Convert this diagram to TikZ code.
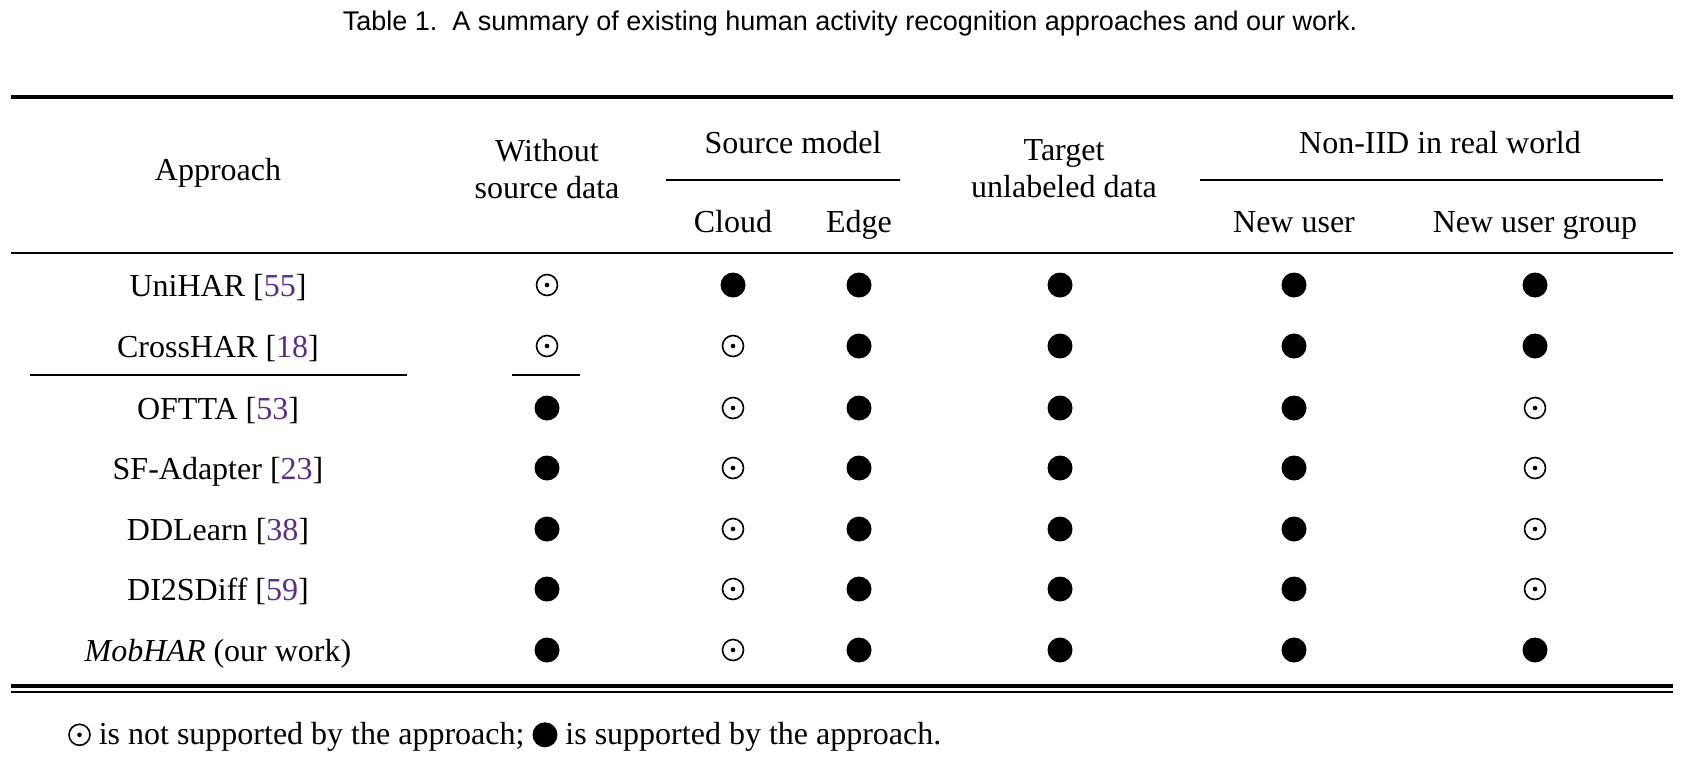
\documentclass[tikz,border=0pt]{standalone}
\usepackage{fontspec}
\setmainfont{Liberation Serif}
\newfontfamily\capfont{Liberation Sans}
\definecolor{cite}{HTML}{5B2C8F}
\newcommand{\cit}[1]{[{\color{cite}#1}]}
\newcommand{\symodot}{\tikz[baseline=-10pt]{\draw[line width=1.6pt](0,0) circle (10.5pt);\fill (0,0) circle (2.3pt);}}
\newcommand{\symbul}{\tikz[baseline=-10pt]{\fill (0,0) circle (12.5pt);}}
\tikzset{
  txt/.style={font=\fontsize{32}{37}\selectfont, inner sep=0pt, align=center},
  btxt/.style={txt, anchor=base},
  rulethick/.style={line width=4.5pt},
  rulethin/.style={line width=1.6pt},
  bul/.style={circle, fill=black, minimum size=25pt, inner sep=0pt},
  od/.style={circle, draw=black, line width=1.6pt, minimum size=21pt, inner sep=0pt, path picture={\fill (path picture bounding box.center) circle (2.3pt);}}
}
\begin{document}
\begin{tikzpicture}[x=1pt,y=-1pt]
\useasboundingbox (0,0) rectangle (1699,764);
\node[txt, font=\capfont\fontsize{27}{32}\selectfont] (cap) at (850,24) {Table 1.\ \ A summary of existing human activity recognition approaches and our work.};
% rules
\coordinate (tl) at (11,97); \coordinate (tr) at (1673,97);
\draw[rulethick] (tl) -- (tr);
\coordinate (ml) at (11,253); \coordinate (mr) at (1673,253);
\draw[rulethin] (ml) -- (mr);
\coordinate (bl) at (11,686); \coordinate (br) at (1673,686);
\draw[line width=3.5pt] (bl) -- (br);
\coordinate (bl2) at (11,692); \coordinate (br2) at (1673,692);
\draw[rulethin] (bl2) -- (br2);
% header
\node[btxt] (hA) at (218,180) {Approach};
\node[txt] (hW) at (547,169) {Without\\source data};
\node[btxt] (hS) at (793,153) {Source model};
\coordinate (s1) at (666,180); \coordinate (s2) at (900,180);
\draw[rulethin] (s1) -- (s2);
\node[btxt] (hC) at (733,232) {Cloud};
\node[btxt] (hE) at (859,232) {Edge};
\node[txt] (hT) at (1064,169) {Target\\unlabeled data};
\node[btxt] (hN) at (1440,153) {Non-IID in real world};
\coordinate (n1) at (1200,180); \coordinate (n2) at (1663,180);
\draw[rulethin] (n1) -- (n2);
\node[btxt] (hU) at (1294,232) {New user};
\node[btxt] (hG) at (1535,232) {New user group};
% rows
\foreach \name/\lab/\y/\w/\c/\g [count=\i] in {
  UniHAR/{UniHAR \cit{55}}/285/o/b/b,
  CrossHAR/{CrossHAR \cit{18}}/346/o/o/b,
  OFTTA/{OFTTA \cit{53}}/408/b/o/o,
  SFA/{SF-Adapter \cit{23}}/468/b/o/o,
  DDL/{DDLearn \cit{38}}/529/b/o/o,
  DI2/{DI2SDiff \cit{59}}/589/b/o/o,
  Mob/{\textit{MobHAR} (our work)}/650/b/o/b}{
  \node[btxt] (r\i) at (218,\y+11) {\lab};
  \if\w b\node[bul] (w\i) at (547,\y) {};\else\node[od] (w\i) at (547,\y) {};\fi
  \if\c b\node[bul] (c\i) at (733,\y) {};\else\node[od] (c\i) at (733,\y) {};\fi
  \node[bul] (e\i) at (859,\y) {};
  \node[bul] (t\i) at (1060,\y) {};
  \node[bul] (u\i) at (1294,\y) {};
  \if\g b\node[bul] (g\i) at (1535,\y) {};\else\node[od] (g\i) at (1535,\y) {};\fi
}
\coordinate (x1) at (30,375); \coordinate (x2) at (407,375);
\draw[rulethin] (x1) -- (x2);
\coordinate (x3) at (512,375); \coordinate (x4) at (580,375);
\draw[rulethin] (x3) -- (x4);
% footnote
\node[txt, anchor=west] (foot) at (68,737) {\symodot{} is not supported by the approach; \symbul{} is supported by the approach.};
\end{tikzpicture}
\end{document}
